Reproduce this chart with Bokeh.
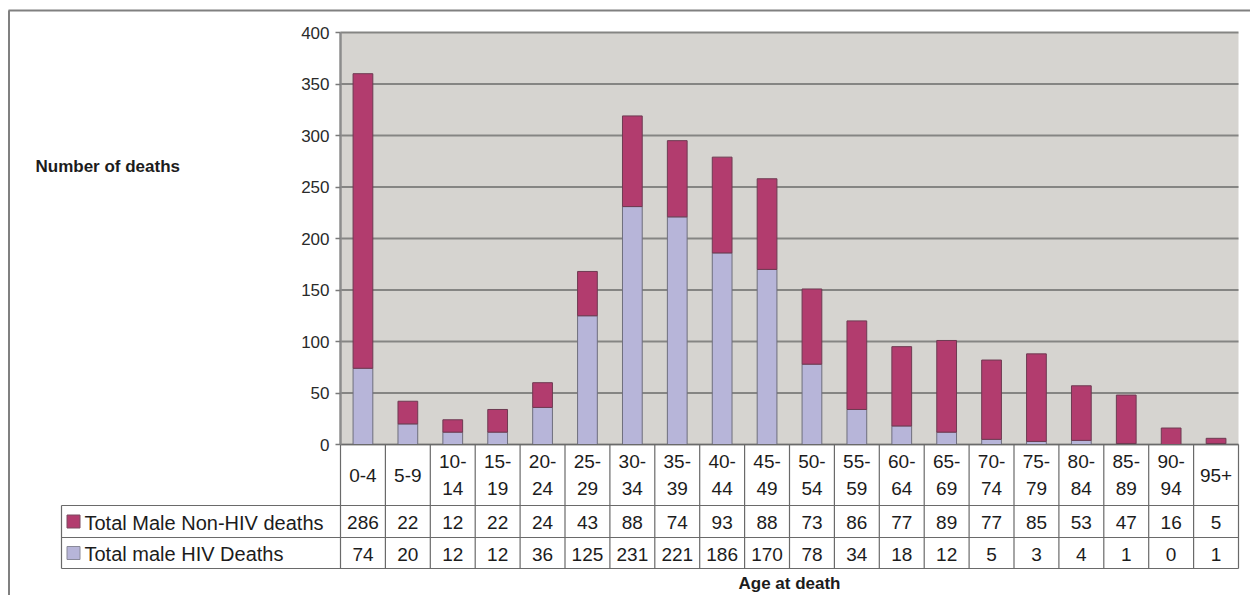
from bokeh.plotting import figure
from bokeh.models import Range1d, LinearAxis, FixedTicker, ColumnDataSource
from bokeh.core.properties import value
from bokeh.embed import file_html
from bokeh.resources import INLINE

# ---------------- data ----------------
age_groups = ["0-4", "5-9", "10-14", "15-19", "20-24", "25-29", "30-34", "35-39",
              "40-44", "45-49", "50-54", "55-59", "60-64", "65-69", "70-74",
              "75-79", "80-84", "85-89", "90-94", "95+"]
non_hiv_deaths = [286, 22, 12, 22, 24, 43, 88, 74, 93, 88, 73, 86, 77, 89, 77,
                  85, 53, 47, 16, 5]
hiv_deaths = [74, 20, 12, 12, 36, 125, 231, 221, 186, 170, 78, 34, 18, 12, 5,
              3, 4, 1, 0, 1]
series_names = ["Total Male Non-HIV deaths", "Total male HIV Deaths"]
y_ticks = [0, 50, 100, 150, 200, 250, 300, 350, 400]
y_title = "Number of deaths"
x_title = "Age at death"

# ---------------- styling / layout constants ----------------
W, H = 1250, 595
PLOT_L, PLOT_R = 340, 1238          # pixel edges of the plot area
PLOT_T, PLOT_B = 32, 444            # pixel y of 400 and 0
n = len(age_groups)
col_w = (PLOT_R - PLOT_L) / n
y_scale = (PLOT_B - PLOT_T) / y_ticks[-1]

def dx(px):
    return (px - PLOT_L) / col_w

def dy(py):
    return (PLOT_B - py) / y_scale

MAGENTA = "#b23c6e"
LAVENDER = "#b7b5d9"
PLOT_BG = "#d6d4d0"
GRID = "#858583"
LINE = "#6a6a6a"
FONT = "Liberation Sans"
TXT = "#1c1c1c"

p = figure(width=W, height=H, output_backend="svg", toolbar_location=None,
           x_range=Range1d(dx(0), dx(W)), y_range=Range1d(dy(H), dy(0)),
           x_axis_type=None, y_axis_type=None,
           min_border=0, min_border_left=0, min_border_right=0,
           min_border_top=0, min_border_bottom=0)
p.outline_line_color = None
p.background_fill_color = "white"
p.border_fill_color = "white"
p.grid.visible = False

# outer frame (top and left)
p.segment(x0=[dx(8), dx(8.5)], y0=[dy(10), dy(10)], x1=[dx(W), dx(8.5)], y1=[dy(10), dy(H)],
          line_color="#808080", line_width=2)

# plot area background
p.quad(left=[0], right=[n], bottom=[0], top=[y_ticks[-1]], fill_color=PLOT_BG, line_color=None)

# gridlines
p.segment(x0=[0] * len(y_ticks), x1=[n] * len(y_ticks), y0=y_ticks, y1=y_ticks,
          line_color=GRID, line_width=1.8)

# stacked bars
centers = [i + 0.5 for i in range(n)]
totals = [a + b for a, b in zip(hiv_deaths, non_hiv_deaths)]
src = ColumnDataSource(dict(x=centers, hiv=hiv_deaths, non=non_hiv_deaths, total=totals))
p.vbar(x="x", width=0.44, bottom=0, top="hiv", source=src,
       fill_color=LAVENDER, line_color="#6e6e7c", line_width=1)
p.vbar(x="x", width=0.44, bottom="hiv", top="total", source=src,
       fill_color=MAGENTA, line_color="#6e3a52", line_width=1)

# y axis (real axis placed at the plot's left edge)
yaxis = LinearAxis(fixed_location=0, bounds=(0, y_ticks[-1]),
                   ticker=FixedTicker(ticks=y_ticks))
yaxis.axis_line_color = "#8c8c8c"
yaxis.axis_line_width = 2.5
yaxis.major_tick_line_color = "#7a7a7a"
yaxis.major_tick_line_width = 1.5
yaxis.major_tick_out = 5
yaxis.major_tick_in = 0
yaxis.minor_tick_line_color = None
yaxis.major_label_standoff = 6
yaxis.major_label_text_font = FONT
yaxis.major_label_text_font_size = "17px"
yaxis.major_label_text_color = "#2a2a2a"
p.add_layout(yaxis, "left")

# axis titles
p.text(x=[dx(35)], y=[dy(166)], text=[y_title], text_font=value(FONT),
       text_font_size="17px", text_font_style="bold", text_color=TXT,
       text_align="left", text_baseline="middle")
p.text(x=[n / 2], y=[dy(583)], text=[x_title], text_font=value(FONT),
       text_font_size="17px", text_font_style="bold", text_color=TXT,
       text_align="center", text_baseline="middle")

# ---------------- data table ----------------
ROW0_B, ROW1_B, ROW2_B = 505, 537, 568
TABLE_L = 61
# horizontal lines
hx0 = [0, dx(TABLE_L), dx(TABLE_L), dx(TABLE_L)]
hx1 = [n, n, n, n]
hy = [0, dy(ROW0_B), dy(ROW1_B), dy(ROW2_B)]
p.segment(x0=hx0, x1=hx1, y0=hy, y1=hy, line_color=LINE, line_width=1.2)
# vertical lines
vx = list(range(n + 1)) + [dx(TABLE_L)]
vy0 = [0] * (n + 1) + [dy(ROW0_B)]
vy1 = [dy(ROW2_B)] * (n + 2)
p.segment(x0=vx, x1=vx, y0=vy0, y1=vy1, line_color=LINE, line_width=1.2)

# category labels (wrapped at the hyphen like the original)
def wrap(label):
    if "-" in label and len(label) > 3:
        a, b = label.split("-")
        return a + "-\n" + b
    return label

cat_labels = [wrap(a) for a in age_groups]
p.text(x=centers, y=[dy((PLOT_B + ROW0_B) / 2)] * n, text=cat_labels,
       text_font=value(FONT), text_font_size="19px", text_color=TXT,
       text_align="center", text_baseline="middle", text_line_height=1.25)

# value rows
p.text(x=centers, y=[dy((ROW0_B + ROW1_B) / 2 + 1)] * n, text=[str(v) for v in non_hiv_deaths],
       text_font=value(FONT), text_font_size="19px", text_color=TXT,
       text_align="center", text_baseline="middle")
p.text(x=centers, y=[dy((ROW1_B + ROW2_B) / 2 + 1)] * n, text=[str(v) for v in hiv_deaths],
       text_font=value(FONT), text_font_size="19px", text_color=TXT,
       text_align="center", text_baseline="middle")

# legend swatches and names
sw = 13
row_c = [(ROW0_B + ROW1_B) / 2, (ROW1_B + ROW2_B) / 2]
p.rect(x=[dx(73)] * 2, y=[dy(c) for c in row_c], width=sw / col_w, height=sw / y_scale,
       fill_color=[MAGENTA, LAVENDER], line_color=["#7a4a60", "#8a8a9a"], line_width=1)
p.text(x=[dx(84)] * 2, y=[dy(c + 1) for c in row_c], text=series_names,
       text_font=value(FONT), text_font_size="20px", text_color=TXT,
       text_align="left", text_baseline="middle")

open("out.html", "w").write(file_html(p, INLINE))
